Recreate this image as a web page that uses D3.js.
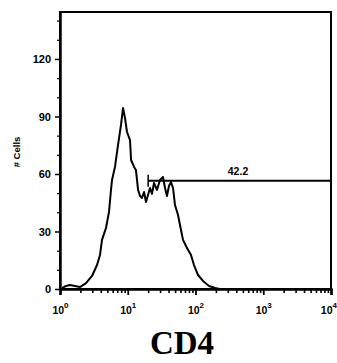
<!DOCTYPE html>
<html><head><meta charset="utf-8">
<script src="https://cdn.jsdelivr.net/npm/d3@7"></script>
<style>body{margin:0;background:#fff}svg{display:block}</style>
</head><body>
<script>
const fluorescence = [1.07,1.23,1.40,1.66,1.97,2.42,2.97,3.52,3.89,4.17,4.77,5.29,5.66,5.86,6.48,7.18,7.95,8.51,9.11,9.75,10.8,11.2,12.4,13.2,13.7,14.2,15.2,16.2,17.4,18.6,19.9,21.3,22.8,24.4,27.0,29.9,33.1,35.5,37.9,40.6,43.5,46.6,49.8,55.2,61.1,65.4,74.9,85.8,95.0,109,129,158,194,230];
const cells = [0.5,1.6,2.1,1.6,1.0,3.1,6.8,12.5,17.7,25.6,31.8,40.2,51.7,56.9,63.7,75.1,85.6,94.4,89.2,81.9,77.7,67.3,63.7,62.1,56.9,51.7,48.5,47.5,50.6,45.4,49.0,52.7,49.6,55.3,51.7,56.9,58.4,52.7,48.5,53.7,55.8,52.7,43.8,38.6,30.8,25.6,21.4,17.7,12.5,7.3,4.2,1.6,0.5,0];
const yTicks = [0,30,60,90,120];
const yMinor = [10,20,40,50,70,80,100,110,130,140];
const xDecades = [0,1,2,3,4];
const gateStart = 20, gateEnd = 10000, gateLevel = 56.5, gateLabel = "42.2";
const axisTitle = "CD4", yTitle = "# Cells";

const W = 337, H = 363;
const svg = d3.select("body").append("svg").attr("width", W).attr("height", H);
const x = d3.scaleLog().domain([1, 10000]).range([60, 331]);
const y = d3.scaleLinear().domain([0, 144.5]).range([289, 12]);

const font = "Liberation Sans, Arial, sans-serif";

// histogram
svg.append("path")
  .datum(fluorescence.map((v, i) => [v, cells[i]]))
  .attr("fill", "none").attr("stroke", "#000").attr("stroke-width", 2)
  .attr("stroke-linejoin", "round")
  .attr("d", d3.line().x(d => x(d[0])).y(d => y(d[1])));

// frame
svg.append("rect").attr("x", x(1)).attr("y", y(144.5))
  .attr("width", x(10000) - x(1)).attr("height", y(0) - y(144.5))
  .attr("fill", "none").attr("stroke", "#000").attr("stroke-width", 2);

// y axis
const yAxis = d3.axisLeft(y).tickValues(yTicks).tickSize(5).tickSizeOuter(0);
const gy = svg.append("g").attr("transform", `translate(${x(1)},0)`).call(yAxis);
gy.select(".domain").attr("stroke-width", 2.5);
gy.selectAll("line").attr("stroke-width", 1.5);
gy.selectAll("text").attr("font-family", font).attr("font-size", 11).attr("font-weight", "bold").attr("x", -9);
const gym = svg.append("g").attr("transform", `translate(${x(1)},0)`)
  .call(d3.axisLeft(y).tickValues(yMinor).tickSize(3).tickFormat(""));
gym.select(".domain").remove();
gym.selectAll("line").attr("stroke-width", 1.2);

// x axis
const minor = [];
xDecades.slice(0, -1).forEach(d => { for (let k = 2; k <= 9; k++) minor.push(k * Math.pow(10, d)); });
const gxm = svg.append("g").attr("transform", `translate(0,${y(0)})`)
  .call(d3.axisBottom(x).tickValues(minor).tickSize(4).tickFormat(""));
gxm.select(".domain").remove();
gxm.selectAll("line").attr("stroke-width", 1.6);
const gx = svg.append("g").attr("transform", `translate(0,${y(0)})`)
  .call(d3.axisBottom(x).tickValues(xDecades.map(d => Math.pow(10, d))).tickSize(6).tickFormat(""));
gx.select(".domain").attr("stroke-width", 2.5);
gx.selectAll("line").attr("stroke-width", 1.8);
gx.selectAll(".tick").each(function(v, i, nodes) {
  const last = i === nodes.length - 1;
  const t = d3.select(this).append("text").attr("y", 25).attr("fill", "#000")
    .attr("x", last ? 5.5 : 0)
    .attr("font-family", font).attr("font-size", 10.5).attr("font-weight", "bold")
    .attr("text-anchor", last ? "end" : "middle");
  t.append("tspan").text("10");
  t.append("tspan").attr("dy", -6).attr("font-size", 8).text(Math.round(Math.log10(v)));
});

// gate
const gate = svg.append("g");
gate.append("line").attr("x1", x(gateStart)).attr("x2", x(gateEnd))
  .attr("y1", y(gateLevel)).attr("y2", y(gateLevel)).attr("stroke", "#000").attr("stroke-width", 2);
gate.append("line").attr("x1", x(gateStart)).attr("x2", x(gateStart))
  .attr("y1", y(gateLevel) - 6).attr("y2", y(gateLevel) + 6).attr("stroke", "#000").attr("stroke-width", 1.5);
gate.append("text").attr("x", 238).attr("y", y(gateLevel) - 6)
  .attr("text-anchor", "middle").attr("font-family", font).attr("font-size", 10.5).attr("font-weight", "bold")
  .text(gateLabel);

// titles
svg.append("text").attr("transform", "translate(20,152) rotate(-90)").attr("text-anchor", "middle")
  .attr("font-family", font).attr("font-size", 9.5).attr("font-weight", "bold").text(yTitle);
svg.append("text").attr("x", 182).attr("y", 354).attr("text-anchor", "middle")
  .attr("font-family", "Liberation Serif, Times New Roman, serif").attr("font-size", 33).attr("font-weight", "bold")
  .text(axisTitle);
</script>
</body></html>
